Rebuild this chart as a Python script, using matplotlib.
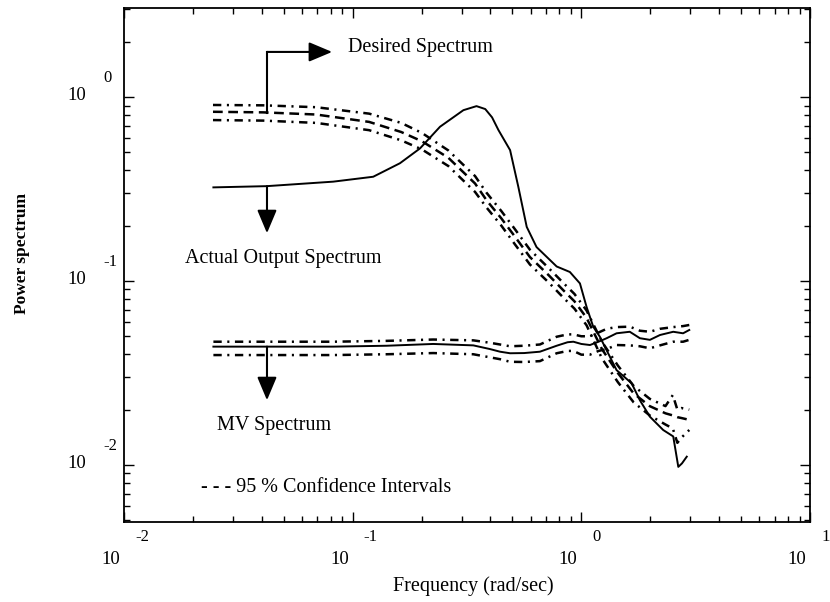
import numpy
import matplotlib
matplotlib.use("Agg")
import matplotlib.pyplot

# Actual output spectrum (solid line)
freq_out = [0.0246, 0.0421, 0.0822, 0.123, 0.161, 0.197, 0.241, 0.305, 0.348,
            0.380, 0.407, 0.434, 0.488, 0.530, 0.577, 0.637, 0.780, 0.891,
            0.986, 1.054, 1.127, 1.205, 1.426, 1.660, 1.803, 1.995, 2.280,
            2.523, 2.655, 2.754, 2.891]
actual_out = [0.323, 0.328, 0.347, 0.369, 0.437, 0.526, 0.690, 0.849, 0.893,
              0.861, 0.776, 0.662, 0.515, 0.326, 0.197, 0.153, 0.120, 0.112,
              0.0971, 0.0724, 0.0565, 0.0498, 0.0328, 0.0278, 0.0225, 0.0183,
              0.0155, 0.0143, 0.00977, 0.0102, 0.0111]

# Desired spectrum and its 95 % confidence intervals
freq_des = [0.0245, 0.0406, 0.0692, 0.118, 0.163, 0.201, 0.262, 0.343, 0.385,
            0.447, 0.513, 0.596, 0.723, 0.834, 0.933, 1.054, 1.230, 1.445,
            1.694, 1.991, 2.333, 2.512, 2.630, 2.742, 2.965]
desired = [0.832, 0.826, 0.804, 0.733, 0.646, 0.575, 0.468, 0.339, 0.275,
           0.219, 0.174, 0.135, 0.107, 0.0891, 0.0776, 0.0631, 0.0427, 0.0316,
           0.0245, 0.0209, 0.0191, 0.0186, 0.0182, 0.0180, 0.0176]
desired_hi = [0.906, 0.902, 0.881, 0.813, 0.724, 0.638, 0.513, 0.372, 0.302,
              0.240, 0.191, 0.148, 0.117, 0.0977, 0.0851, 0.0692, 0.0468,
              0.0347, 0.0269, 0.0229, 0.0209, 0.0240, 0.0200, 0.0204, 0.0200]
desired_lo = [0.750, 0.745, 0.724, 0.661, 0.582, 0.519, 0.422, 0.305, 0.251,
              0.200, 0.158, 0.123, 0.0977, 0.0813, 0.0708, 0.0575, 0.0380,
              0.0282, 0.0219, 0.0186, 0.0166, 0.0158, 0.0132, 0.0141, 0.0155]

# MV spectrum and its 95 % confidence intervals
freq_mv = [0.0246, 0.0501, 0.0822, 0.141, 0.225, 0.337, 0.398, 0.441, 0.488,
           0.562, 0.659, 0.780, 0.871, 0.923, 1.0, 1.091, 1.189, 1.291, 1.426,
           1.629, 1.803, 1.995, 2.208, 2.523, 2.786, 2.965]
mv = [0.0440, 0.0440, 0.0440, 0.0445, 0.0455, 0.0447, 0.0427, 0.0413, 0.0405,
      0.0406, 0.0413, 0.0445, 0.0465, 0.0468, 0.0455, 0.0449, 0.0468, 0.0489,
      0.0520, 0.0530, 0.0489, 0.0479, 0.0509, 0.0530, 0.0520, 0.0542]
mv_hi = [0.0468, 0.0468, 0.0468, 0.0473, 0.0481, 0.0476, 0.0462, 0.0452,
         0.0442, 0.0445, 0.0452, 0.0498, 0.0513, 0.0513, 0.0501, 0.0501,
         0.0525, 0.0550, 0.0562, 0.0565, 0.0537, 0.0530, 0.0550, 0.0562,
         0.0569, 0.0577]
mv_lo = [0.0396, 0.0396, 0.0396, 0.0400, 0.0406, 0.0400, 0.0385, 0.0376,
         0.0364, 0.0363, 0.0367, 0.0405, 0.0417, 0.0417, 0.0398, 0.0398,
         0.0417, 0.0427, 0.0449, 0.0447, 0.0442, 0.0431, 0.0447, 0.0468,
         0.0468, 0.0479]

# Decade labels of both axes
x_exponents = [-2, -1, 0, 1]
y_exponents = [0, -1, -2]

# Times-like font, dashes in points
matplotlib.pyplot.rcParams["font.family"] = ["Liberation Serif", "DejaVu Serif"]
matplotlib.pyplot.rcParams["lines.scale_dashes"] = False

fig = matplotlib.pyplot.figure(figsize=(8.3, 6.02), dpi=100)
ax = fig.add_axes([124 / 830, 80 / 602, 686 / 830, 514 / 602])

ax.set_xscale("log")
ax.set_yscale("log")
ax.set_xlim(0.01, 10)
ax.set_ylim(0.0049, 3.05)

dash = (7, 4)
dash_dot = (6, 4, 1.5, 4)

# Curves
ax.plot(freq_out, actual_out, color="k", lw=1.4)
ax.plot(freq_des, desired, color="k", lw=1.8, dashes=dash)
ax.plot(freq_des, desired_hi, color="k", lw=1.8, dashes=dash_dot)
ax.plot(freq_des, desired_lo, color="k", lw=1.8, dashes=dash_dot)
ax.plot(freq_mv, mv, color="k", lw=1.4)
ax.plot(freq_mv, mv_hi, color="k", lw=1.8, dashes=dash_dot)
ax.plot(freq_mv, mv_lo, color="k", lw=1.8, dashes=dash_dot)

# Ticks inside on every side, labels drawn by hand below
ax.tick_params(which="both", direction="in", top=True, right=True,
               labelbottom=False, labelleft=False, width=1, colors="k")
ax.tick_params(which="major", length=7)
ax.tick_params(which="minor", length=4)
for spine in ax.spines.values():
    spine.set_linewidth(1.3)

for e in x_exponents:
    ax.annotate("10", xy=(10.0 ** e, 0), xycoords=("data", "axes fraction"),
                xytext=(-4, -38), textcoords="offset pixels",
                ha="right", va="center", fontsize=13.5)
    ax.annotate(str(e), xy=(10.0 ** e, 0), xycoords=("data", "axes fraction"),
                xytext=(11, -15), textcoords="offset pixels",
                ha="left", va="center", fontsize=12)

for e in y_exponents:
    ax.annotate("10", xy=(0, 10.0 ** e), xycoords=("axes fraction", "data"),
                xytext=(-38, 2), textcoords="offset pixels",
                ha="right", va="center", fontsize=13.5)
    ax.annotate(str(e), xy=(0, 10.0 ** e), xycoords=("axes fraction", "data"),
                xytext=(-21, 19), textcoords="offset pixels",
                ha="left", va="center", fontsize=12)

# Axis titles
fig.text(473 / 830, 1 - 586 / 602, "Frequency (rad/sec)", ha="center",
         va="center", fontsize=14.5)
fig.text(22 / 830, 1 - 253 / 602, "Power spectrum", ha="center", va="center",
         rotation=90, fontsize=12.5, fontweight="bold")

# Arrows pointing at the curves
arrow_f = 0.0422
head = dict(arrowstyle="-|>,head_length=0.95,head_width=0.4",
            mutation_scale=15, lw=1.5, color="k", shrinkA=0, shrinkB=0)


def at(freq, values, f):
    return 10 ** numpy.interp(numpy.log10(f), numpy.log10(freq),
                              numpy.log10(values))


elbow_y = 1.76
ax.plot([arrow_f, arrow_f], [at(freq_des, desired, arrow_f), elbow_y],
        color="k", lw=1.5)
ax.annotate("", xy=(0.0813, elbow_y), xytext=(arrow_f, elbow_y),
            arrowprops=head)
ax.annotate("", xy=(arrow_f, 0.182),
            xytext=(arrow_f, at(freq_out, actual_out, arrow_f)),
            arrowprops=head)
ax.annotate("", xy=(arrow_f, 0.0225), xytext=(arrow_f, at(freq_mv, mv, arrow_f)),
            arrowprops=head)

# Curve names
ax.text(0.0955, 1.85, "Desired Spectrum", ha="left", va="center",
        fontsize=14.5)
ax.text(0.0185, 0.133, "Actual Output Spectrum", ha="left", va="center",
        fontsize=14.5)
ax.text(0.0255, 0.0165, "MV Spectrum", ha="left", va="center", fontsize=14.5)
ax.text(0.0217, 0.00759, "- - - 95 % Confidence Intervals", ha="left",
        va="center", fontsize=14.5)

fig.savefig("out.png", dpi=100)
